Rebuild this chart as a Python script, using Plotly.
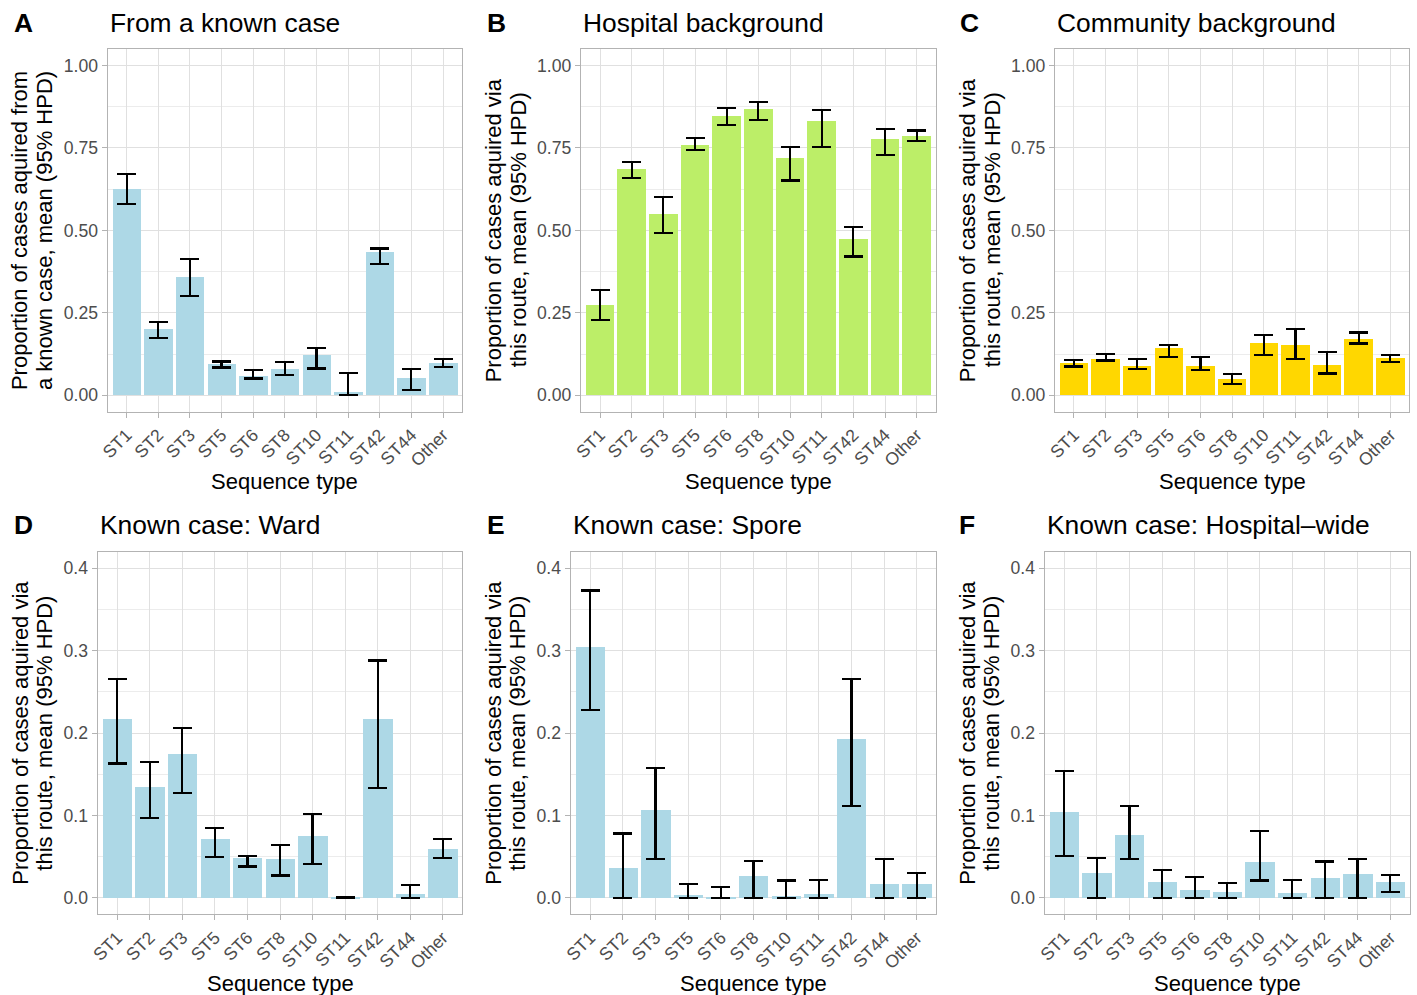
import plotly.graph_objects as go

W, H = 1417, 995

categories = ["ST1", "ST2", "ST3", "ST5", "ST6", "ST8", "ST10", "ST11", "ST42", "ST44", "Other"]

# Panel A: From a known case
a_mean  = [0.626, 0.201, 0.358, 0.095, 0.057, 0.080, 0.122, 0.009, 0.433, 0.052, 0.097]
a_lower = [0.579, 0.173, 0.301, 0.084, 0.051, 0.062, 0.081, 0.000, 0.399, 0.016, 0.086]
a_upper = [0.671, 0.222, 0.412, 0.102, 0.077, 0.100, 0.142, 0.067, 0.445, 0.079, 0.109]

# Panel B: Hospital background
b_mean  = [0.273, 0.687, 0.551, 0.760, 0.848, 0.869, 0.718, 0.833, 0.473, 0.778, 0.787]
b_lower = [0.228, 0.658, 0.491, 0.744, 0.820, 0.835, 0.651, 0.754, 0.421, 0.729, 0.772]
b_upper = [0.318, 0.708, 0.602, 0.780, 0.871, 0.890, 0.754, 0.866, 0.510, 0.808, 0.803]

# Panel C: Community background
c_mean  = [0.098, 0.110, 0.089, 0.143, 0.089, 0.049, 0.158, 0.152, 0.092, 0.170, 0.113]
c_lower = [0.087, 0.105, 0.079, 0.117, 0.076, 0.035, 0.121, 0.110, 0.066, 0.157, 0.101]
c_upper = [0.107, 0.126, 0.110, 0.152, 0.115, 0.064, 0.183, 0.200, 0.132, 0.190, 0.122]

# Panel D: Known case: Ward
d_mean  = [0.217, 0.135, 0.175, 0.072, 0.049, 0.047, 0.075, 0.0003, 0.217, 0.005, 0.060]
d_lower = [0.163, 0.097, 0.127, 0.050, 0.038, 0.027, 0.041, 0.0000, 0.133, 0.000, 0.048]
d_upper = [0.266, 0.165, 0.206, 0.085, 0.051, 0.064, 0.102, 0.0006, 0.288, 0.016, 0.071]

# Panel E: Known case: Spore
e_mean  = [0.305, 0.036, 0.107, 0.004, 0.001, 0.027, 0.002, 0.005, 0.193, 0.017, 0.017]
e_lower = [0.228, 0.000, 0.047, 0.000, 0.000, 0.000, 0.000, 0.000, 0.111, 0.000, 0.000]
e_upper = [0.373, 0.078, 0.158, 0.017, 0.013, 0.045, 0.021, 0.022, 0.266, 0.047, 0.030]

# Panel F: Known case: Hospital-wide
f_mean  = [0.104, 0.030, 0.077, 0.020, 0.010, 0.007, 0.044, 0.006, 0.024, 0.029, 0.020]
f_lower = [0.051, 0.000, 0.047, 0.000, 0.000, 0.000, 0.021, 0.000, 0.000, 0.000, 0.007]
f_upper = [0.154, 0.048, 0.111, 0.034, 0.025, 0.018, 0.081, 0.022, 0.044, 0.047, 0.028]

tags = ["A", "B", "C", "D", "E", "F"]
titles = ["From a known case", "Hospital background", "Community background",
          "Known case: Ward", "Known case: Spore", "Known case: Hospital\u2013wide"]
ytitle_lines = [
    ["Proportion of cases aquired from", "a known case, mean (95% HPD)"],
    ["Proportion of cases aquired via", "this route, mean (95% HPD)"],
    ["Proportion of cases aquired via", "this route, mean (95% HPD)"],
    ["Proportion of cases aquired via", "this route, mean (95% HPD)"],
    ["Proportion of cases aquired via", "this route, mean (95% HPD)"],
    ["Proportion of cases aquired via", "this route, mean (95% HPD)"],
]
xtitle = "Sequence type"
colors = ["#ADD8E6", "#BCEE68", "#FFD700", "#ADD8E6", "#ADD8E6", "#ADD8E6"]

data = [(a_mean, a_lower, a_upper), (b_mean, b_lower, b_upper), (c_mean, c_lower, c_upper),
        (d_mean, d_lower, d_upper), (e_mean, e_lower, e_upper), (f_mean, f_lower, f_upper)]

# panel pixel boxes (left, right, top, bottom)
boxes = [
    (107.7, 462.0, 49.0, 411.7),
    (581.0, 935.7, 49.0, 411.7),
    (1055.0, 1409.3, 49.0, 411.7),
    (97.7, 462.3, 551.7, 914.3),
    (570.7, 936.3, 551.7, 914.3),
    (1044.7, 1409.7, 551.7, 914.3),
]
tag_x = [12, 485, 958, 12, 485, 957]
row_title_y = [23, 23, 23, 525, 525, 525]
xtitle_y = [481, 481, 481, 983, 983, 983]

FONT = "Liberation Sans, Arial, Helvetica, sans-serif"
fig = go.Figure()
annotations = []
layout = {}

for i in range(6):
    mean, lower, upper = data[i]
    xa = "x" if i == 0 else f"x{i+1}"
    ya = "y" if i == 0 else f"y{i+1}"
    fig.add_trace(go.Bar(
        x=categories, y=mean, width=0.9,
        marker=dict(color=colors[i], line=dict(width=0)),
        error_y=dict(type="data", symmetric=False,
                     array=[u - m for u, m in zip(upper, mean)],
                     arrayminus=[m - l for m, l in zip(mean, lower)],
                     color="black", thickness=2.2, width=9.5),
        xaxis=xa, yaxis=ya, showlegend=False,
    ))
    l, r, t, b = boxes[i]
    top_row = i < 3
    xkey = "xaxis" if i == 0 else f"xaxis{i+1}"
    ykey = "yaxis" if i == 0 else f"yaxis{i+1}"
    layout[xkey] = dict(
        domain=[l / W, r / W], anchor=ya, type="category",
        categoryorder="array", categoryarray=categories,
        range=[-0.6, 10.6], tickangle=-45, automargin=False,
        showline=True, mirror=True, linecolor="#B3B3B3", linewidth=1.3,
        showgrid=True, gridcolor="#E0E0E0", gridwidth=1,
        ticks="outside", ticklen=5, tickcolor="#B3B3B3", tickwidth=1.2,
        tickfont=dict(family=FONT, size=17.6, color="#4D4D4D"),
        zeroline=False,
    )
    if top_row:
        yr = [-0.05, 1.05]
        tv = [0, 0.25, 0.5, 0.75, 1.0]
        tt = ["0.00", "0.25", "0.50", "0.75", "1.00"]
        mdt = 0.125
    else:
        yr = [-0.02, 0.42]
        tv = [0, 0.1, 0.2, 0.3, 0.4]
        tt = ["0.0", "0.1", "0.2", "0.3", "0.4"]
        mdt = 0.05
    layout[ykey] = dict(
        domain=[1 - b / H, 1 - t / H], anchor=xa, range=yr, automargin=False,
        tickmode="array", tickvals=tv, ticktext=tt,
        showline=True, mirror=True, linecolor="#B3B3B3", linewidth=1.3,
        showgrid=True, gridcolor="#E0E0E0", gridwidth=1,
        minor=dict(showgrid=True, gridcolor="#ECECEC", gridwidth=0.7,
                   tickmode="linear", tick0=0, dtick=mdt, ticks=""),
        ticks="outside", ticklen=5, tickcolor="#B3B3B3", tickwidth=1.2,
        tickfont=dict(family=FONT, size=17.6, color="#4D4D4D"),
        zeroline=False,
    )
    # tag
    annotations.append(dict(text=f"<b>{tags[i]}</b>", x=tag_x[i] / W, y=1 - row_title_y[i] / H,
                            xref="paper", yref="paper", xanchor="left", yanchor="middle",
                            showarrow=False, font=dict(family=FONT, size=26.4, color="black")))
    # title
    annotations.append(dict(text=titles[i], x=l / W, y=1 - row_title_y[i] / H,
                            xref="paper", yref="paper", xanchor="left", yanchor="middle",
                            showarrow=False, font=dict(family=FONT, size=26.4, color="black")))
    # x title
    annotations.append(dict(text=xtitle, x=(l + r) / 2 / W, y=1 - xtitle_y[i] / H,
                            xref="paper", yref="paper", xanchor="center", yanchor="middle",
                            showarrow=False, font=dict(family=FONT, size=22, color="black")))
    # y title two lines
    offs = (-88, -63) if top_row else (-78, -54)
    for line, off in zip(ytitle_lines[i], offs):
        annotations.append(dict(text=line, x=(l + off) / W, y=1 - (t + b) / 2 / H,
                                xref="paper", yref="paper", xanchor="center", yanchor="middle",
                                textangle=-90, showarrow=False,
                                font=dict(family=FONT, size=22, color="black")))

fig.update_layout(
    width=W, height=H, margin=dict(l=0, r=0, t=0, b=0, autoexpand=False),
    paper_bgcolor="white", plot_bgcolor="white",
    annotations=annotations, bargap=0,
    **layout,
)

fig.write_html("out.html")
